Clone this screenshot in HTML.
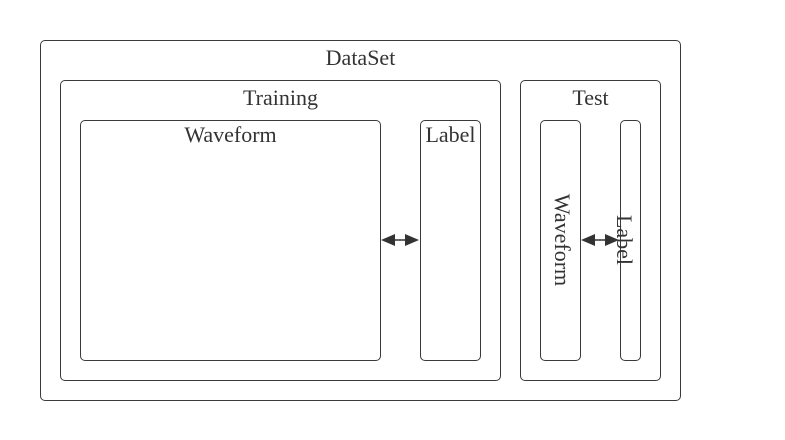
<!DOCTYPE html>
<html><head><style>
html,body{margin:0;padding:0;background:#fff;}
body{width:785px;height:440px;position:relative;overflow:hidden;font-family:"Liberation Serif",serif;color:#333;}
.b{position:absolute;border:1px solid #3a3a3a;border-radius:5px;box-sizing:border-box;}
.t{position:absolute;font-size:22px;text-align:center;line-height:22px;}
.r{position:absolute;font-size:22px;line-height:22px;transform:translate(-50%,-50%) rotate(90deg);white-space:nowrap;}
</style></head><body>
<div class="b" style="left:40px;top:40px;width:641px;height:361px"></div>
<div class="t" style="left:40px;width:641px;top:47px">DataSet</div>
<div class="b" style="left:60px;top:80px;width:441px;height:301px"></div>
<div class="t" style="left:60px;width:441px;top:87px">Training</div>
<div class="b" style="left:80px;top:120px;width:301px;height:241px"></div>
<div class="t" style="left:80px;width:301px;top:124px">Waveform</div>
<div class="b" style="left:420px;top:120px;width:61px;height:241px"></div>
<div class="t" style="left:420px;width:61px;top:124px">Label</div>
<div class="b" style="left:520px;top:80px;width:141px;height:301px"></div>
<div class="t" style="left:520px;width:141px;top:87px">Test</div>
<div class="b" style="left:540px;top:120px;width:41px;height:241px"></div>
<div class="b" style="left:620px;top:120px;width:21px;height:241px"></div>
<div class="r" style="left:562px;top:240px">Waveform</div>
<div class="r" style="left:624px;top:240px">Label</div>
<svg width="785" height="440" style="position:absolute;left:0;top:0">
<g fill="#333" stroke="#333">
<line x1="390" y1="240" x2="410" y2="240" stroke-width="1.5"/>
<polygon points="381,240 395,234 395,246" stroke="none"/>
<polygon points="419,240 405,234 405,246" stroke="none"/>
<line x1="590" y1="240" x2="610" y2="240" stroke-width="1.5"/>
<polygon points="581,240 595,234 595,246" stroke="none"/>
<polygon points="619,240 605,234 605,246" stroke="none"/>
</g>
</svg>
</body></html>
